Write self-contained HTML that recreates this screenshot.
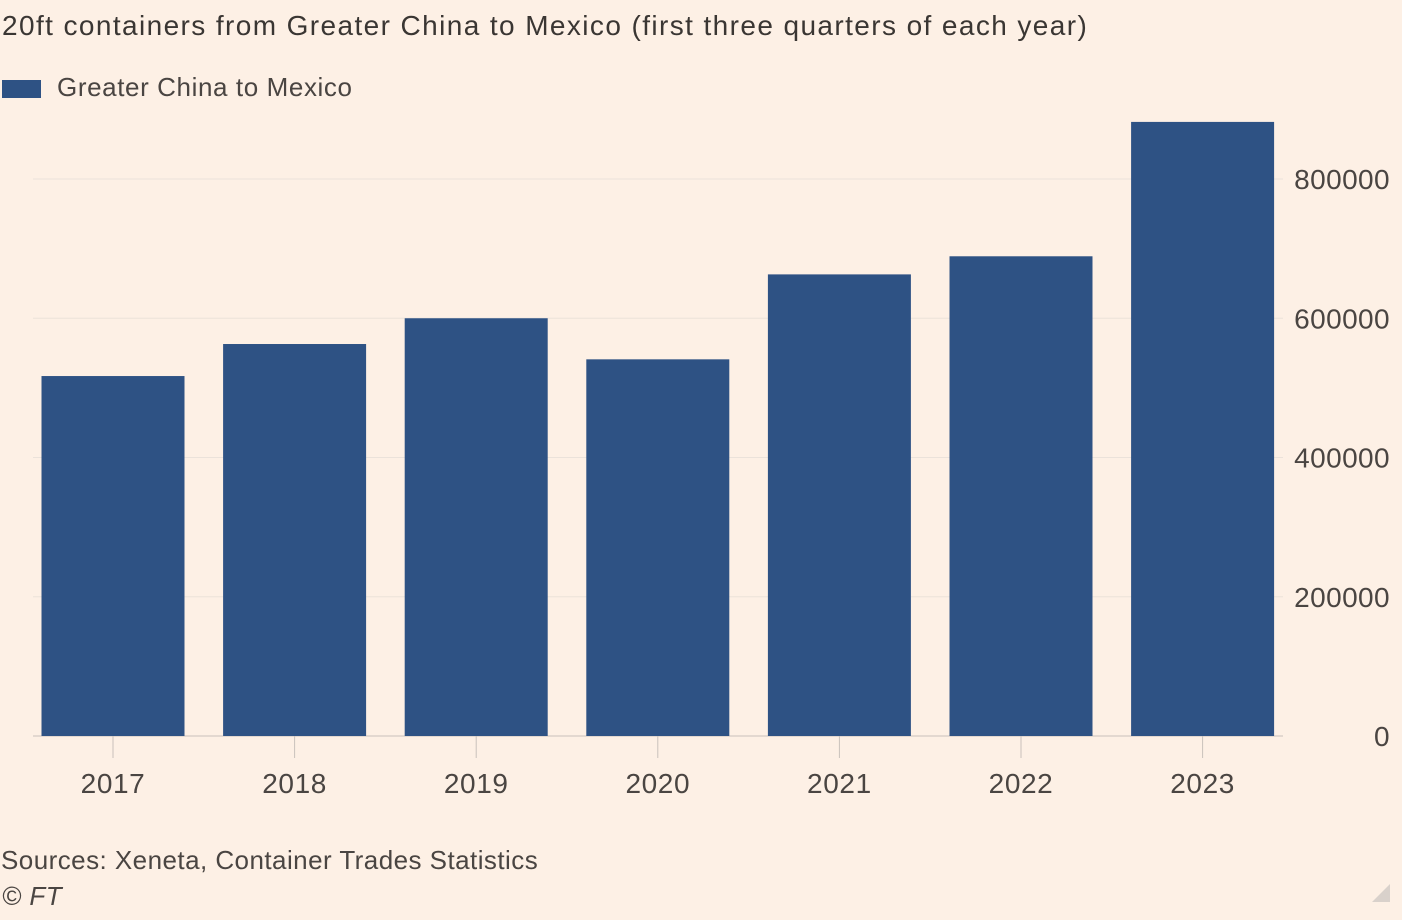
<!DOCTYPE html>
<html><head><meta charset="utf-8">
<style>
html,body{margin:0;padding:0;background:#fdf0e5;}
body{width:1402px;height:920px;overflow:hidden;font-family:"Liberation Sans",sans-serif;color:#4a4542;position:relative}
.t{position:absolute;white-space:nowrap}
</style></head><body>
<div class="t" style="left:2px;top:10px;font-size:28px;letter-spacing:1.4px;color:#3a3633">20ft containers from Greater China to Mexico (first three quarters of each year)</div>
<div style="position:absolute;left:2px;top:78px;">
<div style="position:absolute;left:0;top:2px;width:39px;height:18px;background:#2e5284"></div>
<div class="t" style="left:55px;top:-6px;font-size:26px;letter-spacing:0.6px">Greater China to Mexico</div>
</div>
<svg id="chart" width="1402" height="920" style="position:absolute;left:0;top:0"></svg>
<div class="t" style="left:1px;top:845px;font-size:26px;letter-spacing:0.45px">Sources: Xeneta, Container Trades Statistics</div>
<div class="t" style="left:2px;top:881px;font-size:26px;font-style:italic;letter-spacing:0.5px">© FT</div>
<svg width="20" height="20" style="position:absolute;left:1372px;top:884px"><polygon points="18,0 18,18 0,18" fill="#d9d1cb"/></svg>
<script>
const categories=["2017","2018","2019","2020","2021","2022","2023"];
const values=[517000,563000,600000,541000,663000,689000,882000];
const yTicks=[0,200000,400000,600000,800000];
const yTickLabels=["0","200000","400000","600000","800000"];
const svg=document.getElementById('chart');
const NS='http://www.w3.org/2000/svg';
const y=v=>736-v*557/800000;
const xc=i=>113+i*181.6;
const bw=143;
function mk(t,a){const e=document.createElementNS(NS,t);for(const k in a)e.setAttribute(k,a[k]);svg.appendChild(e);return e;}
yTicks.forEach((v,i)=>{
  const l=mk('line',{x1:33,x2:1283,y1:y(v),y2:y(v),stroke:v===0?'#c9c1bb':'#ebe2da','stroke-width':1});
  
  
  const t=mk('text',{x:1390,y:y(v)+10,'text-anchor':'end','font-size':28,'letter-spacing':0.4,fill:'#4a4542','font-family':'Liberation Sans, sans-serif'});
  t.textContent=yTickLabels[i];
  
  
});
categories.forEach((c,i)=>{
  const r=mk('rect',{x:xc(i)-bw/2,y:y(values[i]),width:bw,height:y(0)-y(values[i]),fill:'#2e5284'});
  
  
  const tk=mk('line',{x1:xc(i),x2:xc(i),y1:736,y2:758,stroke:'#c9c1bb'});
  
  
  const t=mk('text',{x:xc(i),y:793,'text-anchor':'middle','font-size':28,'letter-spacing':0.6,fill:'#4a4542','font-family':'Liberation Sans, sans-serif'});
  t.textContent=c;
  
  
});
</script>
</body></html>
